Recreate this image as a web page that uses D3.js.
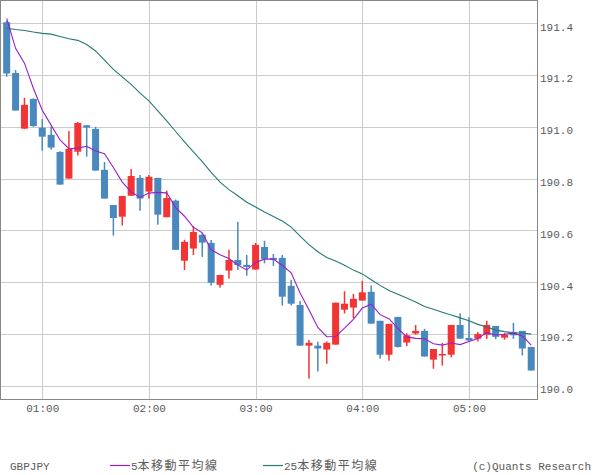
<!DOCTYPE html>
<html><head><meta charset="utf-8">
<script src="https://cdn.jsdelivr.net/npm/d3@7"></script>
<style>body{margin:0;background:#fff}svg{display:block}</style>
</head><body><svg id="c" width="600" height="475"></svg>
<script>
const times = ["00:40","00:45","00:50","00:55","01:00","01:05","01:10","01:15","01:20","01:25","01:30","01:35",
"01:40","01:45","01:50","01:55","02:00","02:05","02:10","02:15","02:20","02:25","02:30","02:35",
"02:40","02:45","02:50","02:55","03:00","03:05","03:10","03:15","03:20","03:25","03:30","03:35",
"03:40","03:45","03:50","03:55","04:00","04:05","04:10","04:15","04:20","04:25","04:30","04:35",
"04:40","04:45","04:50","04:55","05:00","05:05","05:10","05:15","05:20","05:25","05:30","05:35"];
const open = [191.404,191.208,190.993,191.108,190.997,190.969,190.903,190.800,190.904,191.006,190.992,190.834,
190.698,190.653,190.734,190.803,190.750,190.803,190.651,190.715,190.483,190.530,190.583,190.552,
190.390,190.445,190.486,190.467,190.449,190.536,190.494,190.494,190.386,190.312,190.155,190.155,
190.140,190.159,190.294,190.302,190.329,190.363,190.251,190.120,190.266,190.167,190.202,190.212,
190.101,190.117,190.120,190.235,190.185,190.182,190.197,190.231,190.186,190.208,190.212,190.150];
const high = [191.410,191.219,191.112,191.110,191.030,191.001,190.906,190.984,191.019,191.006,191.000,190.864,
190.698,190.733,190.837,190.814,190.814,190.803,190.754,190.719,190.564,190.616,190.590,190.563,
190.428,190.525,190.633,190.505,190.552,190.560,190.509,190.505,190.409,190.328,190.177,190.170,
190.171,190.321,190.365,190.355,190.405,190.387,190.251,190.239,190.266,190.203,190.235,190.220,
190.142,190.166,190.235,190.280,190.265,190.208,190.251,190.231,190.204,190.243,190.212,190.150];
const low = [191.194,191.063,190.991,191.000,190.908,190.912,190.777,190.800,190.889,190.885,190.831,190.723,
190.580,190.619,190.734,190.676,190.723,190.622,190.651,190.525,190.447,190.505,190.498,190.387,
190.379,190.414,190.447,190.425,190.449,190.473,190.463,190.310,190.310,190.155,190.028,190.055,
190.085,190.159,190.279,190.261,190.329,190.240,190.105,190.097,190.148,190.153,190.197,190.113,
190.066,190.078,190.110,190.182,190.172,190.171,190.181,190.180,190.178,190.181,190.117,190.059];
const close = [191.206,191.063,191.085,191.003,190.962,190.920,190.777,190.915,191.015,190.997,190.831,190.723,
190.648,190.733,190.810,190.723,190.807,190.661,190.725,190.525,190.556,190.594,190.553,190.398,
190.428,190.486,190.466,190.459,190.544,190.490,190.486,190.344,190.317,190.155,190.166,190.144,
190.166,190.321,190.317,190.336,190.361,190.240,190.120,190.239,190.150,190.195,190.212,190.113,
190.142,190.123,190.235,190.182,190.175,190.200,190.235,190.189,190.197,190.195,190.144,190.059];
// moving-average values for the bars whose window starts before the first bar shown
const ma5Lead = [191.419,191.303,191.246,191.149];
const ma25Lead = [191.381,191.376,191.372,191.366,191.361,191.358,191.349,191.340,191.334,191.318,191.293,191.258,
191.222,191.193,191.164,191.130,191.100,191.062,191.023,190.982,190.942,190.903,190.866,190.824];
const yTicks = [190.0,190.2,190.4,190.6,190.8,191.0,191.2,191.4];
const xTickLabels = ["01:00","02:00","03:00","04:00","05:00"];
const symbol = "GBPJPY";
const seriesNames = ["5本移動平均線","25本移動平均線"];
const credit = "(c)Quants Research";

const C = {blue:"#4a89bd", red:"#f23434", ma5:"#9a1fc8", ma25:"#267a74", grid:"#cccccc", border:"#888888", text:"#5a5a5a"};
const mono = "'Liberation Mono', 'DejaVu Sans Mono', monospace";
const cjk = "'Noto Sans CJK JP', sans-serif";

const parse = d3.timeParse("%H:%M");
const T = times.map(parse);
const step = 5*60*1000;
const L = 1, R = 537, TOP = 1, BOT = 399;
const x = d3.scaleTime().domain([new Date(+T[0]-0.64*step), new Date(+T[T.length-1]+0.65*step)]).range([L,R]);
const y = d3.scaleLinear().domain([189.949, 191.486]).range([BOT,TOP]);

function sma(n, lead){ return close.map((c,i)=> i < lead.length ? lead[i] : d3.mean(close.slice(i-n+1,i+1))); }
const ma5 = sma(5, ma5Lead), ma25 = sma(25, ma25Lead);

const svg = d3.select("#c");
svg.append("rect").attr("width",600).attr("height",475).attr("fill","#fff");

// gridlines
const g = svg.append("g");
g.selectAll("line.h").data(yTicks).join("line").attr("class","h")
  .attr("x1",L).attr("x2",R).attr("y1",d=>Math.round(y(d))+0.5).attr("y2",d=>Math.round(y(d))+0.5)
  .attr("stroke",C.grid).attr("stroke-width",1);
const xt = xTickLabels.map(parse);
g.selectAll("line.v").data(xt).join("line").attr("class","v")
  .attr("x1",d=>Math.round(x(d))+0.5).attr("x2",d=>Math.round(x(d))+0.5).attr("y1",TOP).attr("y2",BOT)
  .attr("stroke",C.grid).attr("stroke-width",1);

// candles
const bw = 7;
const idx = d3.range(T.length);
const cg = svg.append("g");
const col = i => close[i] > open[i] ? C.red : C.blue;
cg.selectAll("rect.w").data(idx).join("rect").attr("class","w")
  .attr("x",i=>x(T[i])-0.75).attr("width",1.5)
  .attr("y",i=>y(high[i])).attr("height",i=>Math.max(0.5,y(low[i])-y(high[i])))
  .attr("fill",col);
cg.selectAll("rect.b").data(idx).join("rect").attr("class","b")
  .attr("x",i=>x(T[i])-bw/2).attr("width",bw)
  .attr("y",i=>y(Math.max(open[i],close[i])))
  .attr("height",i=>Math.max(1.2,Math.abs(y(open[i])-y(close[i]))))
  .attr("fill",col);

// moving averages
const line = d3.line().x((d,i)=>x(T[i])).y(d=>y(d));
svg.append("path").attr("d",line(ma25)).attr("fill","none").attr("stroke",C.ma25).attr("stroke-width",1.1);
svg.append("path").attr("d",line(ma5)).attr("fill","none").attr("stroke",C.ma5).attr("stroke-width",1.1);

// border
svg.append("rect").attr("x",0.5).attr("y",0.5).attr("width",R).attr("height",BOT)
  .attr("fill","none").attr("stroke",C.border).attr("stroke-width",1);

// y axis labels (right)
const ya = svg.append("g").attr("transform",`translate(${R+1},0)`)
  .call(d3.axisRight(y).tickValues(yTicks).tickFormat(d3.format(".1f")).tickSize(0).tickPadding(2));
ya.select(".domain").remove();
ya.selectAll("text").attr("font-family",mono).attr("font-size",11).attr("fill",C.text).attr("dy","0.62em");

// x axis labels
const xa = svg.append("g").attr("transform",`translate(0,${BOT})`)
  .call(d3.axisBottom(x).tickValues(xt).tickFormat(d3.timeFormat("%H:%M")).tickSize(0).tickPadding(5));
xa.select(".domain").remove();
xa.selectAll("text").attr("font-family",mono).attr("font-size",11).attr("fill",C.text);

// legend
const ly = 470;
const lg = svg.append("g");
lg.append("text").attr("x",10).attr("y",ly).attr("font-family",mono).attr("font-size",11).attr("fill",C.text).text(symbol);
function legendItem(x0, color, label){
  lg.append("line").attr("x1",x0).attr("x2",x0+20).attr("y1",ly-4.5).attr("y2",ly-4.5).attr("stroke",color).attr("stroke-width",1.2);
  const m = label.match(/^(\d+)(.*)$/);
  const t = lg.append("text").attr("x",x0+21).attr("y",ly).attr("fill",C.text);
  t.append("tspan").attr("font-family",mono).attr("font-size",11).text(m[1]);
  t.append("tspan").attr("font-family",cjk).attr("font-size",12).attr("letter-spacing",1.5).text(m[2]);
}
legendItem(110, C.ma5, seriesNames[0]);
legendItem(263, C.ma25, seriesNames[1]);
lg.append("text").attr("x",591).attr("y",ly).attr("text-anchor","end").attr("font-family",mono).attr("font-size",11).attr("fill",C.text).text(credit);
</script></body></html>
